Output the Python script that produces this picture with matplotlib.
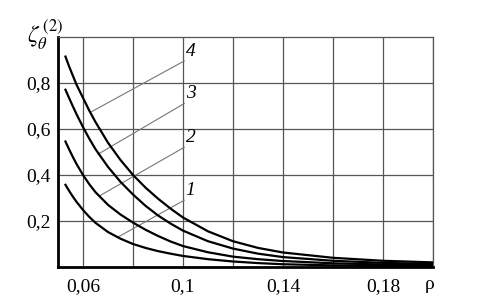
import numpy as np
import matplotlib
matplotlib.use("Agg")
import matplotlib.pyplot as plt

plt.rcParams['font.family'] = ['Liberation Serif', 'DejaVu Serif']
plt.rcParams['mathtext.fontset'] = 'stix'

# values
rho = [0.053, 0.0545, 0.056, 0.0575, 0.06, 0.0625, 0.065, 0.07, 0.075, 0.08,
       0.085, 0.09, 0.095, 0.10, 0.11, 0.12, 0.13, 0.14, 0.16, 0.18, 0.20]
zeta_1 = [0.357, 0.33, 0.305, 0.282, 0.248, 0.218, 0.192, 0.152, 0.123, 0.10,
          0.083, 0.069, 0.058, 0.048, 0.034, 0.024, 0.017, 0.012, 0.007, 0.005, 0.003]
zeta_2 = [0.545, 0.51, 0.477, 0.446, 0.40, 0.36, 0.325, 0.27, 0.228, 0.193,
          0.162, 0.135, 0.111, 0.091, 0.064, 0.045, 0.034, 0.026, 0.016, 0.011, 0.008]
zeta_3 = [0.77, 0.733, 0.697, 0.662, 0.608, 0.558, 0.512, 0.435, 0.37, 0.315,
          0.266, 0.224, 0.189, 0.158, 0.112, 0.08, 0.058, 0.043, 0.027, 0.018, 0.013]
zeta_4 = [0.914, 0.87, 0.83, 0.79, 0.735, 0.68, 0.63, 0.54, 0.465, 0.40,
          0.345, 0.297, 0.254, 0.215, 0.155, 0.112, 0.083, 0.063, 0.04, 0.027, 0.02]
curves = [zeta_1, zeta_2, zeta_3, zeta_4]
curve_names = ['1', '2', '3', '4']

# leader lines: point on curve -> label
leader_start = [(0.074, 0.13), (0.0668, 0.31), (0.066, 0.49), (0.0635, 0.675)]
leader_end = [(0.1005, 0.29), (0.1005, 0.52), (0.1005, 0.71), (0.1005, 0.895)]

x_ticks = [0.06, 0.1, 0.14, 0.18]
x_labels = ['0,06', '0,1', '0,14', '0,18']
y_ticks = [0.2, 0.4, 0.6, 0.8]
y_labels = ['0,2', '0,4', '0,6', '0,8']

fig = plt.figure(figsize=(4.83, 2.99), dpi=100)
ax = fig.add_axes([0.120, 0.107, 0.7765, 0.770])

ax.set_xlim(0.05, 0.20)
ax.set_ylim(0, 1.0)

# grid
for gx in np.arange(0.06, 0.20, 0.02):
    ax.axvline(gx, color='#555555', lw=0.9, zorder=1)
for gy in np.arange(0.2, 1.0, 0.2):
    ax.axhline(gy, color='#555555', lw=0.9, zorder=1)

for c in curves:
    ax.plot(rho, c, color='black', lw=1.6, zorder=3, solid_joinstyle='round')

for (x0, y0), (x1, y1), name in zip(leader_start, leader_end, curve_names):
    ax.plot([x0, x1], [y0, y1], color='#777777', lw=0.8, zorder=2)
    ax.text(x1 + 0.0006, y1 + 0.005, name, fontsize=14, style='italic',
            ha='left', va='bottom')

ax.set_xticks(x_ticks)
ax.set_xticklabels(x_labels)
ax.set_yticks(y_ticks)
ax.set_yticklabels(y_labels)
ax.tick_params(length=0, labelsize=14)
ax.tick_params(axis='x', pad=8)
ax.tick_params(axis='y', pad=5)

for s in ['left', 'bottom']:
    ax.spines[s].set_linewidth(2)
    ax.spines[s].set_color('black')
for s in ['top', 'right']:
    ax.spines[s].set_linewidth(0.9)
    ax.spines[s].set_color('#555555')

fig.text(0.055, 0.885, r'$\zeta_{\theta}^{\,(2)}$', fontsize=17, ha='left', va='center')
fig.text(0.89, 0.047, 'ρ', fontsize=14, ha='center', va='center')

fig.savefig('out.png', dpi=100)
